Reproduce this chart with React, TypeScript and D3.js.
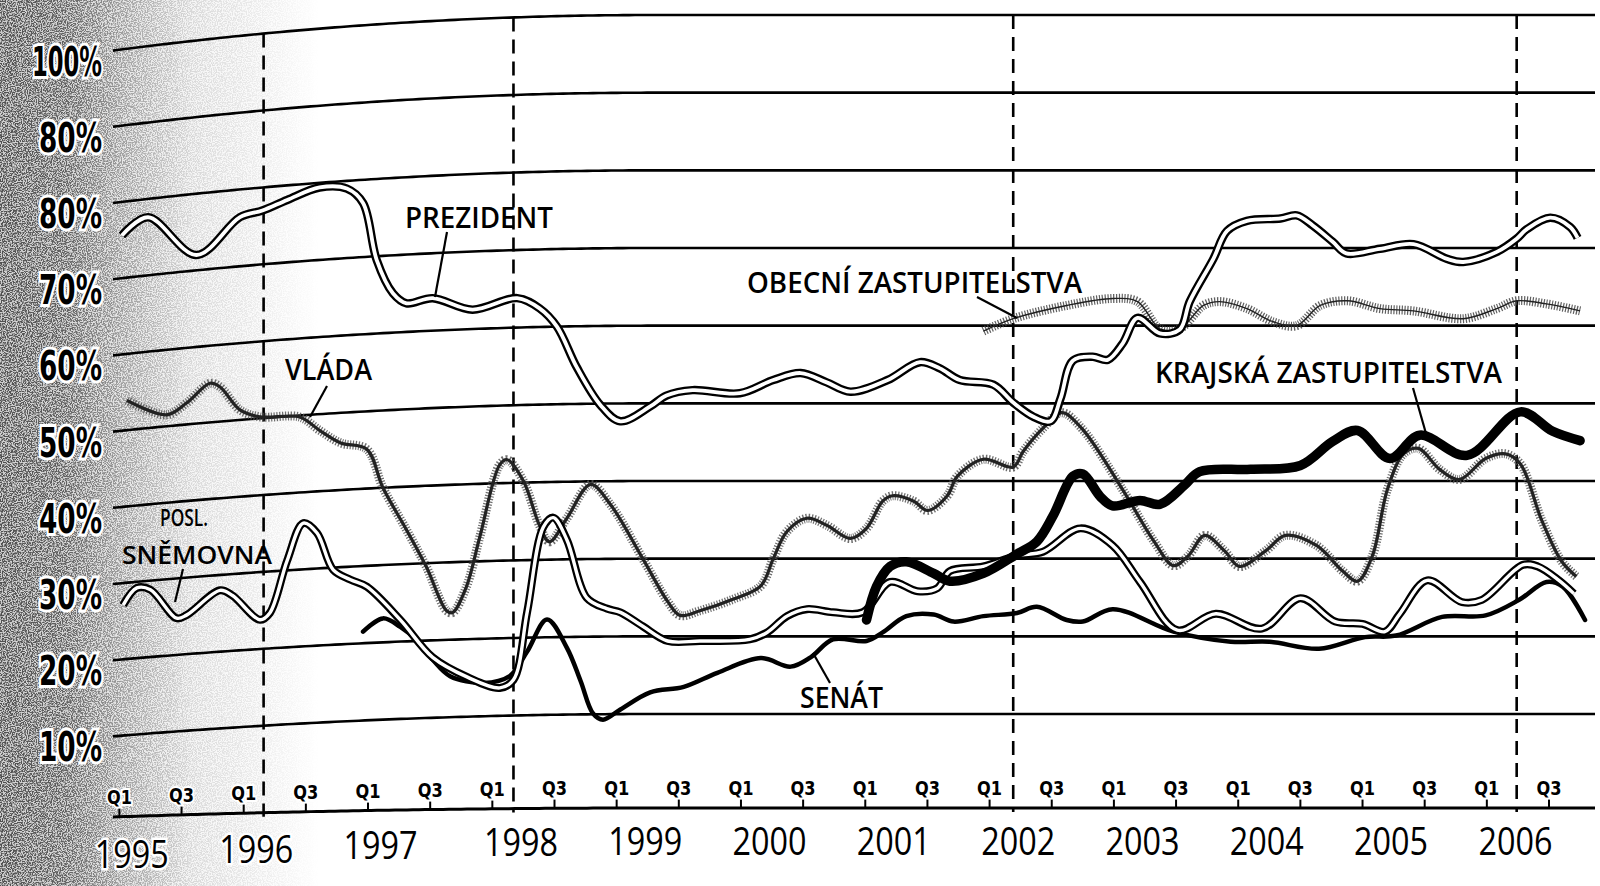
import React, { useEffect, useRef } from 'react';
import * as d3 from 'd3';

type Pt = [number, number];

const svgWidth = 1600;
const svgHeight = 886;

// hodnoty mřížky a popisky (druhý popisek je v originále opravdu "80%")
const gridValues = [10, 20, 30, 40, 50, 60, 70, 80, 90, 100];
const gridLabels = ['10%', '20%', '30%', '40%', '50%', '60%', '70%', '80%', '80%', '100%'];
const halfYears = d3.range(1995, 2006.51, 0.5);
const years = d3.range(1995, 2007);
const electionDates = [1996.16, 1998.17, 2002.19, 2006.24];

const prezident: Pt[] = [
  [1995.02, 75.6], [1995.23, 77.6], [1995.62, 72], [1995.97, 76.4], [1996.15, 77], [1996.35, 78.1],
  [1996.61, 79.4], [1996.83, 79], [1996.96, 77], [1997.07, 69.5], [1997.2, 65.1], [1997.31, 63.7],
  [1997.52, 64.2], [1997.84, 62.5], [1998.2, 63.8], [1998.38, 62.4], [1998.52, 60], [1998.68, 54.7],
  [1998.87, 49.8], [1999.03, 47.7], [1999.27, 49.6], [1999.4, 51], [1999.61, 51.7], [1999.99, 51.3],
  [2000.26, 53], [2000.48, 53.9], [2000.69, 52.7], [2000.88, 51.5], [2001.18, 53], [2001.44, 55.3],
  [2001.6, 54.5], [2001.76, 53], [2002.03, 52.4], [2002.19, 50.1], [2002.35, 48.3], [2002.49, 47.7],
  [2002.57, 50.6], [2002.67, 55.5], [2002.83, 56], [2002.95, 55.6], [2003.07, 57.7], [2003.19, 61],
  [2003.37, 59], [2003.53, 59.5], [2003.61, 63.1], [2003.8, 68.6], [2003.91, 72.2], [2004.07, 73.5],
  [2004.34, 73.8], [2004.47, 74.2], [2004.6, 72.9], [2004.76, 70.8], [2004.87, 69.3], [2005.14, 69.9],
  [2005.41, 70.5], [2005.68, 68.6], [2005.81, 68.2], [2006.08, 69.5], [2006.24, 71.2], [2006.32, 72.4],
  [2006.51, 73.9], [2006.67, 72.7], [2006.73, 71.3],
];

const vlada: Pt[] = [
  [1995.06, 53.9], [1995.38, 51.5], [1995.54, 52.8], [1995.73, 55.1], [1995.81, 54.5], [1995.97, 51.3],
  [1996.13, 50.2], [1996.45, 49.8], [1996.61, 47.9], [1996.78, 46.1], [1996.99, 45.1], [1997.12, 40],
  [1997.31, 34.4], [1997.47, 29.5], [1997.63, 23.8], [1997.68, 23.5], [1997.79, 26.7], [1997.9, 33.2],
  [1998.06, 42.4], [1998.12, 43], [1998.25, 40.2], [1998.38, 34.4], [1998.46, 32.3], [1998.6, 35.3],
  [1998.79, 39.6], [1998.95, 37], [1999.21, 30], [1999.41, 24.5], [1999.51, 22.7], [1999.67, 23.3],
  [1999.94, 24.8], [2000.16, 26.5], [2000.26, 30], [2000.37, 33.5], [2000.53, 35.2], [2000.69, 34.3],
  [2000.88, 32.6], [2001.01, 33.9], [2001.14, 37.4], [2001.22, 38.1], [2001.39, 37.4], [2001.5, 36.2],
  [2001.66, 38.1], [2001.74, 40.6], [2001.95, 42.8], [2002.19, 41.8], [2002.27, 43.8], [2002.43, 46.8],
  [2002.58, 48.8], [2002.74, 46.8], [2003.07, 38.9], [2003.32, 32.3], [2003.48, 29.1], [2003.6, 30.4],
  [2003.73, 33], [2003.89, 31], [2004.01, 29], [2004.22, 31], [2004.38, 33], [2004.63, 31.7],
  [2004.84, 28.4], [2004.96, 27.1], [2005.08, 30.4], [2005.2, 38.9], [2005.33, 43.5], [2005.45, 44.2],
  [2005.62, 41.5], [2005.78, 40.2], [2005.99, 42.9], [2006.15, 43.5], [2006.27, 42.2], [2006.44, 35],
  [2006.6, 29.7], [2006.72, 27.7],
];

const poslSnemovna: Pt[] = [
  [1995.03, 27.1], [1995.14, 29.2], [1995.25, 28.8], [1995.46, 24.8], [1995.54, 25.1], [1995.81, 28],
  [1995.91, 27.2], [1996.13, 23.8], [1996.21, 24.6], [1996.35, 31.3], [1996.48, 36], [1996.59, 34.6],
  [1996.72, 29.7], [1996.86, 28.3], [1996.99, 27.3], [1997.26, 22.8], [1997.52, 17.8], [1997.8, 15.1],
  [1998.06, 13.6], [1998.17, 14.6], [1998.28, 23.3], [1998.41, 34.2], [1998.49, 35.4], [1998.6, 32.5],
  [1998.76, 25], [1998.92, 23.6], [1999.03, 23.1], [1999.21, 21.3], [1999.41, 19.4], [1999.67, 19.4],
  [2000.07, 19.6], [2000.21, 20.5], [2000.37, 22.6], [2000.53, 23.5], [2000.74, 23.1], [2000.98, 23.1],
  [2001.2, 27], [2001.42, 25.8], [2001.58, 26.2], [2001.68, 28.4], [2001.95, 29], [2002.22, 30.4],
  [2002.43, 30.9], [2002.73, 33.9], [2002.99, 31.7], [2003.21, 27], [2003.51, 20.8], [2003.82, 22.9],
  [2004.19, 21], [2004.5, 24.9], [2004.78, 21.9], [2005, 21.6], [2005.18, 20.6], [2005.3, 22.9],
  [2005.52, 27.2], [2005.8, 24.4], [2005.96, 24.7], [2006.29, 29.2], [2006.41, 29], [2006.58, 27.2],
  [2006.7, 25.5],
];

const senat: Pt[] = [
  [1996.96, 21.5], [1997.12, 23.1], [1997.26, 21.9], [1997.39, 20.1], [1997.52, 17.5], [1997.66, 15.3],
  [1997.93, 14.3], [1998.14, 15.1], [1998.28, 18.2], [1998.44, 22.3], [1998.6, 18.6], [1998.71, 14.3],
  [1998.81, 10.1], [1998.89, 9.3], [1999.03, 10.6], [1999.27, 12.8], [1999.54, 13.5], [1999.81, 15.3],
  [2000.16, 17.2], [2000.4, 16.1], [2000.56, 17.3], [2000.74, 19.6], [2001.01, 19.4], [2001.14, 20.5],
  [2001.33, 22.6], [2001.55, 22.8], [2001.71, 21.9], [2001.95, 22.6], [2002.22, 23], [2002.38, 23.8],
  [2002.62, 22.1], [2002.75, 21.9], [2002.99, 23.5], [2003.48, 20.6], [2003.94, 19.3], [2004.25, 19.3],
  [2004.65, 18.4], [2005.02, 19.9], [2005.27, 20.1], [2005.64, 22.5], [2005.99, 22.7], [2006.26, 24.7],
  [2006.48, 27], [2006.61, 26.4], [2006.79, 22.1],
];

const obecni: Pt[] = [
  [2001.95, 59.3], [2002.19, 60.9], [2002.62, 62.6], [2002.99, 63.5], [2003.19, 63.1], [2003.37, 59.6],
  [2003.53, 59.6], [2003.72, 62.6], [2003.85, 63.1], [2004.07, 62.2], [2004.28, 60.5], [2004.47, 60],
  [2004.66, 62.6], [2004.88, 63.2], [2005.14, 62.2], [2005.41, 61.9], [2005.81, 60.9], [2006.08, 62.2],
  [2006.24, 63.2], [2006.48, 62.8], [2006.75, 61.9],
];

const krajska: Pt[] = [
  [2001.01, 22.1], [2001.09, 26.4], [2001.2, 29], [2001.33, 29.6], [2001.55, 28.1], [2001.68, 27.1],
  [2001.95, 28.1], [2002.22, 30.6], [2002.38, 32.2], [2002.51, 35.5], [2002.67, 40.6], [2002.75, 40.9],
  [2002.89, 38], [2002.99, 36.8], [2003.21, 37.5], [2003.37, 37], [2003.57, 39.5], [2003.69, 41.2],
  [2004.1, 41.5], [2004.5, 42], [2004.76, 45.1], [2004.96, 46.5], [2005.22, 42.9], [2005.46, 45.9],
  [2005.84, 43.3], [2006.27, 48.9], [2006.53, 46.4], [2006.75, 45.2],
];

// popisky řad: text, pozice a odkazová čára
const notes = [
  { text: 'PREZIDENT', x: 405, y: 228, len: 148, size: 28, line: [447, 232, 435, 297] },
  { text: 'VLÁDA', x: 285, y: 380, len: 87, size: 28, line: [327, 386, 310, 417] },
  { text: 'POSL.', x: 160, y: 526, len: 48, size: 24, line: null },
  { text: 'SNĚMOVNA', x: 122, y: 564, len: 150, size: 26, line: [183, 569, 175, 602] },
  { text: 'SENÁT', x: 800, y: 708, len: 83, size: 28, line: [830, 683, 813, 653] },
  { text: 'OBECNÍ ZASTUPITELSTVA', x: 747, y: 293, len: 335, size: 28, line: [977, 297, 1017, 318] },
  { text: 'KRAJSKÁ ZASTUPITELSTVA', x: 1155, y: 383, len: 347, size: 28, line: [1413, 388, 1427, 437] },
];

const App: React.FC = () => {
  const svgRef = useRef<SVGSVGElement | null>(null);

  useEffect(() => {
    const svg = d3.select(svgRef.current);
    svg.selectAll('*').remove();

    const x = d3.scaleLinear().domain([1995, 2006.5]).range([119.4, 1549]);
    const y = d3.scaleLinear().domain([10, 100]).range([714, 15]);
    // levý okraj skenu je prohnutý dolů
    const lift = d3.scaleLinear().domain([10, 100]).range([22.4, 35.6]);
    const X0 = 113;
    const XE = 655;
    const bend = (px: number) => (px < XE ? Math.pow((XE - px) / (XE - X0), 2) : 0);
    const py = (v: number, px: number) => y(v) + lift(v) * bend(px);
    const axisY = (px: number) => 808 + 9 * bend(px);

    const defs = svg.append('defs');
    const grad = defs
      .append('linearGradient')
      .attr('id', 'fade')
      .attr('gradientUnits', 'userSpaceOnUse')
      .attr('x1', 0)
      .attr('x2', 320)
      .attr('y1', 0)
      .attr('y2', 0);
    [
      [0, 0.62],
      [0.2, 0.55],
      [0.38, 0.32],
      [0.6, 0.12],
      [1, 0],
    ].forEach(([o, a]) => grad.append('stop').attr('offset', o).attr('stop-color', '#000').attr('stop-opacity', a));

    const f = defs.append('filter').attr('id', 'speckle').attr('x', 0).attr('y', 0).attr('width', 1).attr('height', 1);
    f.append('feTurbulence')
      .attr('type', 'fractalNoise')
      .attr('baseFrequency', 0.8)
      .attr('numOctaves', 2)
      .attr('seed', 5)
      .attr('result', 'n');
    f.append('feColorMatrix')
      .attr('in', 'n')
      .attr('type', 'matrix')
      .attr('values', '0 0 0 0 0  0 0 0 0 0  0 0 0 0 0  -5 0 0 0 3.0')
      .attr('result', 'dots');
    f.append('feComposite').attr('in', 'dots').attr('in2', 'SourceAlpha').attr('operator', 'in');

    svg.append('rect').attr('width', svgWidth).attr('height', svgHeight).attr('fill', '#fff');
    svg
      .append('rect')
      .attr('width', 320)
      .attr('height', svgHeight)
      .attr('fill', 'url(#fade)')
      .attr('opacity', 0.3);
    svg
      .append('rect')
      .attr('width', 320)
      .attr('height', svgHeight)
      .attr('fill', 'url(#fade)')
      .attr('filter', 'url(#speckle)');

    // mřížka
    const sampleX = d3.range(X0, svgWidth + 1, 6);
    const flat = d3.line<number[]>().x((d) => d[0]).y((d) => d[1]);
    const grid = svg.append('g');
    gridValues.forEach((v) => {
      grid
        .append('path')
        .attr('d', flat(sampleX.map((px) => [px, py(v, px)])))
        .attr('fill', 'none')
        .attr('stroke', '#000')
        .attr('stroke-width', 2.6);
    });

    // osa x
    const axis = svg.append('g');
    axis
      .append('path')
      .attr('d', flat(sampleX.map((px) => [px, axisY(px)])))
      .attr('fill', 'none')
      .attr('stroke', '#000')
      .attr('stroke-width', 3);
    halfYears.forEach((t) => {
      const px = x(t);
      axis
        .append('line')
        .attr('x1', px)
        .attr('x2', px)
        .attr('y1', axisY(px))
        .attr('y2', axisY(px) - 10)
        .attr('stroke', '#000')
        .attr('stroke-width', 2);
      axis
        .append('text')
        .attr('x', px)
        .attr('y', axisY(px) - 13)
        .attr('text-anchor', 'middle')
        .attr('font-family', 'DejaVu Sans Condensed, DejaVu Sans')
        .attr('font-weight', 'bold')
        .attr('font-size', 20)
        .attr('textLength', 25)
        .attr('lengthAdjust', 'spacingAndGlyphs')
        .attr('fill', '#000')
        .attr('stroke', '#fff')
        .attr('stroke-width', 4)
        .attr('paint-order', 'stroke')
        .text(t % 1 === 0 ? 'Q1' : 'Q3');
    });
    years.forEach((yr) => {
      const px = x(yr + (yr < 1998 ? 0.1 : 0.23));
      axis
        .append('text')
        .attr('x', px)
        .attr('y', axisY(px) + 47 + 5 * bend(px))
        .attr('text-anchor', 'middle')
        .attr('font-family', 'Open Sans')
        .attr('font-weight', 500)
        .attr('font-size', 38)
        .attr('textLength', 74)
        .attr('lengthAdjust', 'spacingAndGlyphs')
        .attr('fill', '#000')
        .attr('stroke', '#fff')
        .attr('stroke-width', 5)
        .attr('paint-order', 'stroke')
        .text(String(yr));
    });

    // volby - svislé čárkované čáry
    electionDates.forEach((t) => {
      const px = x(t);
      svg
        .append('line')
        .attr('x1', px)
        .attr('x2', px)
        .attr('y1', py(100, px))
        .attr('y2', axisY(px) + 4)
        .attr('stroke', '#000')
        .attr('stroke-width', 2.6)
        .attr('stroke-dasharray', '14 8');
    });

    // popisky osy y
    gridValues.forEach((v, i) => {
      const lbl = gridLabels[i];
      svg
        .append('text')
        .attr('x', 102)
        .attr('y', py(v, X0) + 25)
        .attr('text-anchor', 'end')
        .attr('font-family', 'DejaVu Sans Condensed, DejaVu Sans')
        .attr('font-weight', 'bold')
        .attr('font-size', 40)
        .attr('textLength', lbl.length === 4 ? 70 : 63)
        .attr('lengthAdjust', 'spacingAndGlyphs')
        .attr('fill', '#000')
        .attr('stroke', '#fff')
        .attr('stroke-width', 6)
        .attr('paint-order', 'stroke')
        .text(lbl);
    });

    const line = d3
      .line<Pt>()
      .x((d) => x(d[0]))
      .y((d) => py(d[1], x(d[0])))
      .curve(d3.curveCatmullRom.alpha(0.5));

    const series = svg.append('g').attr('fill', 'none').attr('stroke-linejoin', 'round');

    // chlupaté čáry (vláda, obecní zastupitelstva)
    const hairy = (data: Pt[], core: number, tone: string) => {
      series
        .append('path')
        .attr('d', line(data))
        .attr('stroke', tone)
        .attr('stroke-width', 9)
        .attr('stroke-dasharray', '1.2 1.6')
        .attr('opacity', 0.85);
      series
        .append('path')
        .attr('d', line(data))
        .attr('stroke', '#222')
        .attr('stroke-width', core);
    };
    hairy(vlada, 3.2, '#555');
    hairy(obecni, 1.4, '#444');

    series
      .append('path')
      .attr('d', line(senat))
      .attr('stroke', '#000')
      .attr('stroke-width', 4.5)
      .attr('stroke-linecap', 'round');

    // dvojité čáry
    const double = (data: Pt[], outer: number, inner: number) => {
      series.append('path').attr('d', line(data)).attr('stroke', '#000').attr('stroke-width', outer);
      series.append('path').attr('d', line(data)).attr('stroke', '#fff').attr('stroke-width', inner);
    };
    double(poslSnemovna, 8, 3.4);
    double(prezident, 8.5, 3.8);

    series
      .append('path')
      .attr('d', line(krajska))
      .attr('stroke', '#000')
      .attr('stroke-width', 9.5)
      .attr('stroke-linecap', 'round');

    // popisky řad
    notes.forEach((n) => {
      if (n.line) {
        svg
          .append('line')
          .attr('x1', n.line[0])
          .attr('y1', n.line[1])
          .attr('x2', n.line[2])
          .attr('y2', n.line[3])
          .attr('stroke', '#000')
          .attr('stroke-width', 2.2);
      }
      svg
        .append('text')
        .attr('x', n.x)
        .attr('y', n.y)
        .attr('font-family', 'Open Sans')
        .attr('font-weight', 600)
        .attr('font-size', n.size)
        .attr('textLength', n.len)
        .attr('lengthAdjust', 'spacingAndGlyphs')
        .attr('fill', '#000')
        .text(n.text);
    });
  }, []);

  return (
    <svg
      width={svgWidth}
      height={svgHeight}
      ref={svgRef}
      style={{ position: 'absolute', left: 0, top: 0, display: 'block' }}
    ></svg>
  );
};

export default App;
